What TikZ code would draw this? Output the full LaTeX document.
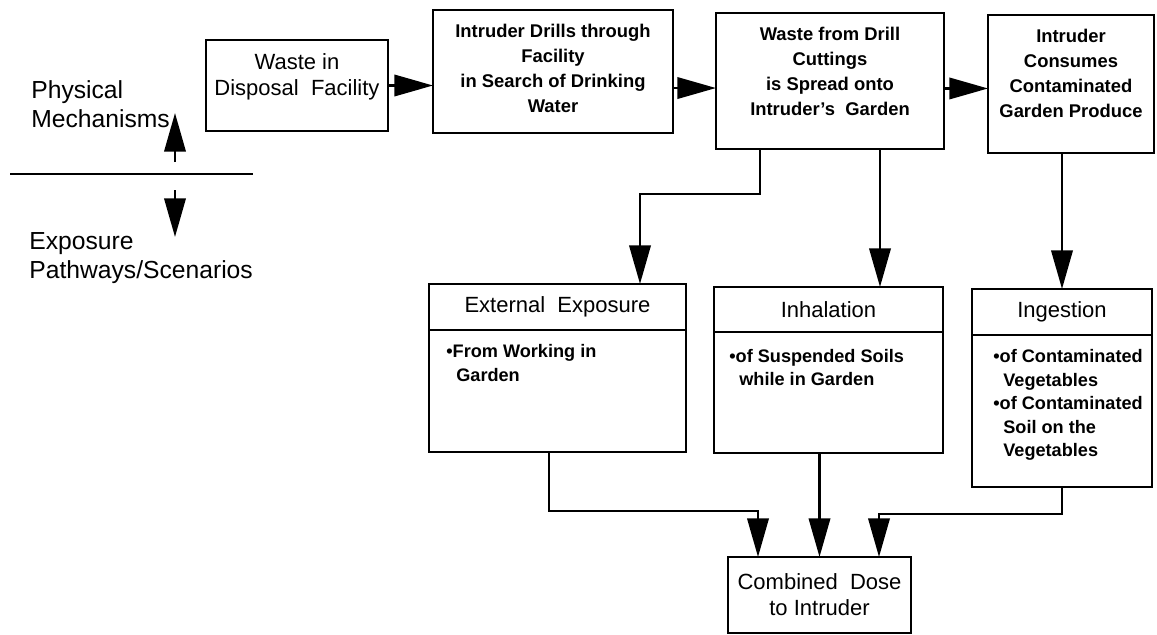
\documentclass[tikz,border=0pt]{standalone}
\usepackage{fontspec}
\setmainfont{Liberation Sans}
\usetikzlibrary{arrows.meta}

\newcommand{\boxfont}{\fontsize{13.8}{18.75}\selectfont\bfseries}
\newcommand{\headfont}{\fontsize{16.5}{19.5}\selectfont}
\newcommand{\notefont}{\fontsize{13.6}{17.6}\selectfont\bfseries}
\newcommand{\sidefont}{\fontsize{18.5}{22}\selectfont}

\begin{document}
\begin{tikzpicture}[x=0.75pt, y=-0.75pt, line width=2pt,
  box/.style={draw, inner xsep=2pt, inner ysep=10.5pt, outer sep=0pt, font=\boxfont},
  head/.style={draw, align=center, inner sep=0pt, outer sep=0pt, font=\headfont},
  note/.style={align=left, inner sep=0pt, anchor=north west, font=\notefont},
  arr/.style={-{Triangle[length=29pt, width=16pt]}}]
\useasboundingbox (0,0) rectangle (1157,635);

% divider on the left
\draw (10,174) -- (253,174);
\draw[arr] (175,162) -- (175,113);
\draw[arr] (175,190) -- (175,237);
\node[anchor=west, align=left, font=\sidefont, inner sep=0pt] (phys) at (30,104) {Physical\\Mechanisms};
\node[anchor=west, align=left, font=\sidefont, inner sep=0pt] (expo) at (28,258) {Exposure\\Pathways/Scenarios};

% physical mechanisms
\node[box, font=\headfont] (waste) at (297,85.5) {\parbox[c][47.25pt][t]{132.5pt}{\centering Waste in\\Disposal\ \ Facility}};
\node[box] (drill) at (553,71.5) {\parbox[c][71.25pt][t]{176pt}{\centering Intruder Drills through\\Facility\\in Search of Drinking\\Water}};
\node[box] (garden) at (830,81) {\parbox[c][81pt][t]{167pt}{\centering Waste from Drill\\Cuttings\\is Spread onto\\Intruder's\ \ Garden}};
\node[box] (consume) at (1071,84) {\parbox[c][82.5pt][t]{120.5pt}{\centering Intruder\\Consumes\\Contaminated\\Garden Produce}};

% exposure pathways
\node[head, minimum width=192.75pt, minimum height=34.5pt] (ext) at (557.5,307) {External\ \ Exposure};
\node[head, minimum width=192.75pt, minimum height=91.5pt, anchor=north] (extb) at (ext.south) {};
\node[note] (extn) at ([shift={(12pt,-10pt)}]extb.north west) {\textbullet From Working in\\\hspace*{7.5pt}Garden};

\node[head, minimum width=171.75pt, minimum height=33.75pt] (inh) at (828.5,309.5) {Inhalation};
\node[head, minimum width=171.75pt, minimum height=90.75pt, anchor=north] (inhb) at (inh.south) {};
\node[note] (inhn) at ([shift={(10.5pt,-12pt)}]inhb.north west) {\textbullet of Suspended Soils\\\hspace*{7.5pt}while in Garden};

\node[head, minimum width=135pt, minimum height=34.5pt] (ing) at (1062,312) {Ingestion};
\node[head, minimum width=135pt, minimum height=114pt, anchor=north] (ingb) at (ing.south) {};
\node[note] (ingn) at ([shift={(15pt,-10pt)}]ingb.north west) {\textbullet of Contaminated\\\hspace*{7.5pt}Vegetables\\\textbullet of Contaminated\\\hspace*{7.5pt}Soil on the\\\hspace*{7.5pt}Vegetables};

\node[head, minimum width=137.25pt, minimum height=57pt] (dose) at (819.5,595) {Combined\ \ Dose\\to Intruder};

% connectors
\draw[arr] (waste.east) -- (waste.east -| drill.west);
\draw[arr] ([yshift=-12.4pt]drill.east) -- ([yshift=-12.4pt]drill.east -| garden.west);
\draw[arr] ([yshift=-5.6pt]garden.east) -- ([yshift=-5.6pt]garden.east -| consume.west);
\draw[arr] (garden.south -| 760,0) -- ++(0,45) -| (ext.north -| 640,0);
\draw[arr] (garden.south -| 880,0) -- (inh.north -| 880,0);
\draw[arr] (consume.south -| ing.north) -- (ing.north);
\draw[arr] (extb.south -| 549,0) -- ++(0,59) -| (dose.north -| 758,0);
\draw[arr] (inhb.south -| dose.north) -- (dose.north);
\draw[arr] (ingb.south) -- ++(0,27) -| (dose.north -| 879,0);
\end{tikzpicture}
\end{document}
